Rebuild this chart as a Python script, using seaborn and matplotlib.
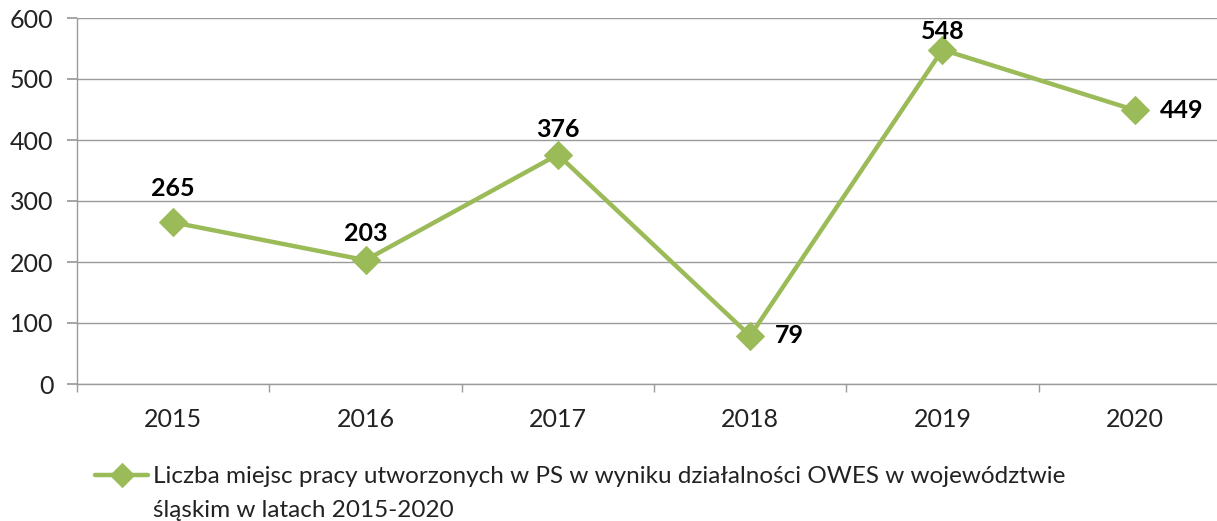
import pandas as pd
import matplotlib.pyplot as plt
import seaborn as sns

sns.set_theme(style="white")
plt.rcParams["font.family"] = ["Lato", "DejaVu Sans"]

years = ["2015", "2016", "2017", "2018", "2019", "2020"]
jobs = [265, 203, 376, 79, 548, 449]
series_label = ("Liczba miejsc pracy utworzonych w PS w wyniku działalności OWES w województwie",
                "śląskim w latach 2015-2020")

# where each value label sits relative to its point (points)
label_offsets = [(0, 19), (0, 13.5), (0, 13), (18, 0), (0, 8), (18, 0)]

GREEN = "#9BBB59"
GREY = "#9a9a9a"
TXT = "#222222"

df = pd.DataFrame({"year": years, "jobs": jobs})

fig = plt.figure(figsize=(12.17, 5.21), dpi=100)
ax = fig.add_axes([77 / 1217, 137 / 521, 1154 / 1217, 366 / 521])

sns.lineplot(data=df, x="year", y="jobs", ax=ax, color=GREEN, linewidth=3.2,
             marker="D", markersize=14, markeredgecolor=GREEN, label=series_label[0])

# value labels
for i, (v, (dx, dy)) in enumerate(zip(jobs, label_offsets)):
    if dx == 0:
        ax.annotate(str(v), (i, v), xytext=(dx, dy), textcoords="offset points",
                    ha="center", va="baseline", fontsize=18, fontweight="bold", color="black")
    else:
        ax.annotate(str(v), (i, v), xytext=(dx, dy), textcoords="offset points",
                    ha="left", va="center", fontsize=18, fontweight="bold", color="black")

ax.set_xlim(-0.5, len(years) - 0.5)
ax.set_ylim(0, 600)
ax.set_yticks(range(0, 601, 100))
ax.set_xlabel("")
ax.set_ylabel("")

ax.yaxis.grid(True, color=GREY, linewidth=1)
ax.set_axisbelow(True)
for s in ["top", "right"]:
    ax.spines[s].set_visible(False)
for s in ["left", "bottom"]:
    ax.spines[s].set_color(GREY)
    ax.spines[s].set_linewidth(1)

ax.set_xticks([i + 0.5 for i in range(-1, len(years))], minor=True)
ax.tick_params(axis="x", which="major", length=0, pad=17, labelsize=18, labelcolor=TXT)
ax.tick_params(axis="x", which="minor", length=6, color=GREY, bottom=True, direction="out")
ax.tick_params(axis="y", which="major", length=7, color=GREY, left=True, direction="out",
               pad=10, labelsize=18, labelcolor=TXT)

leg = ax.legend(loc="upper left", bbox_to_anchor=(95 / 1217, 1 - 466 / 521),
                bbox_transform=fig.transFigure, frameon=False, fontsize=17.5,
                handlelength=2.2, handletextpad=0.2, borderaxespad=0, borderpad=0,
                markerscale=0.85)
for t in leg.get_texts():
    t.set_color(TXT)

# second line of the legend label, under the first one
fig.canvas.draw()
bb = leg.get_texts()[0].get_window_extent().transformed(fig.transFigure.inverted())
fig.text(bb.x0, bb.y0 - 34 / 521, series_label[1], fontsize=17.5, color=TXT,
         ha="left", va="bottom")

fig.savefig("out.png", dpi=100)
